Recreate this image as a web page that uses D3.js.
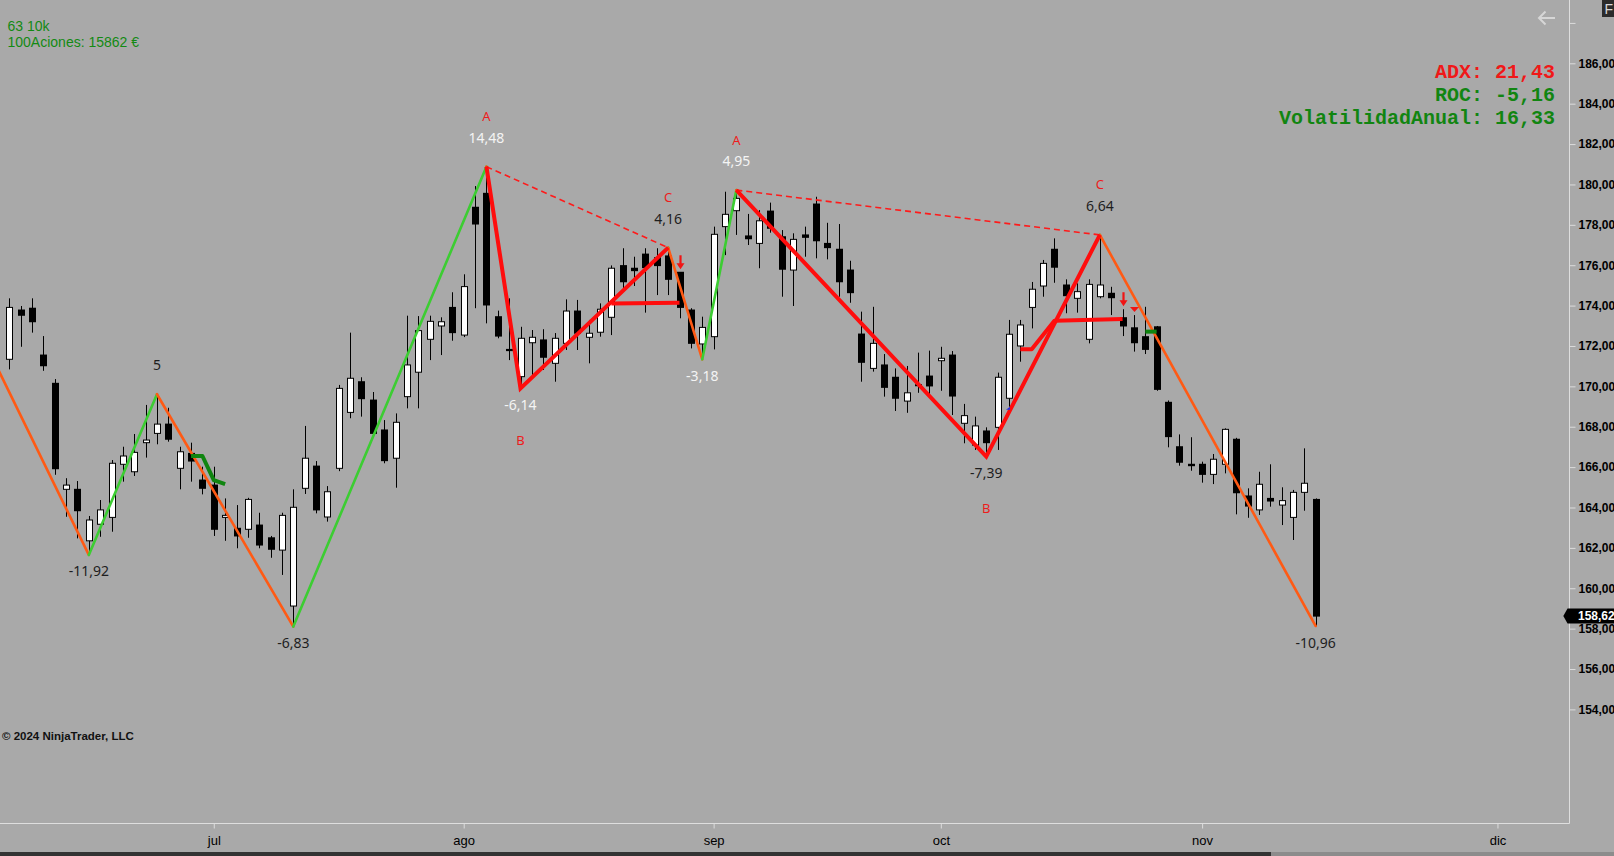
<!DOCTYPE html>
<html><head><meta charset="utf-8">
<script src="https://cdn.jsdelivr.net/npm/d3@7"></script>
<style>html,body{margin:0;padding:0;background:#a9a9a9;overflow:hidden}</style>
</head><body><svg id="c" width="1614" height="856"></svg>
<script>
// ---------- DATA ----------
const openP = [171.34,173.78,173.87,171.55,170.15,164.90,164.90,162.35,163.17,163.51,166.14,165.77,167.21,167.67,168.13,165.94,166.68,165.36,165.11,163.51,
162.97,162.92,163.13,162.50,161.89,159.12,164.95,166.05,163.53,165.94,168.71,170.23,169.32,167.84,166.44,169.49,170.70,172.33,172.99,173.91,
172.54,178.87,179.56,173.45,171.83,170.48,172.16,172.30,171.14,172.13,173.73,172.43,172.68,173.42,175.98,175.85,176.55,176.37,176.46,175.65,
173.78,172.10,172.46,177.91,178.70,177.45,177.08,178.68,177.41,175.76,177.50,179.03,177.08,176.79,175.76,172.59,170.89,171.06,170.45,169.27,
170.08,170.51,171.27,171.55,168.17,167.09,167.79,167.97,169.41,172.00,173.91,174.97,176.79,175.02,174.36,172.33,174.44,174.61,173.40,172.90,
172.46,172.95,169.21,167.01,166.14,166.14,165.64,166.14,167.38,164.57,163.88,164.45,164.12,163.51,164.75,164.40];
const highP = [174.36,173.98,174.36,172.49,170.36,165.45,165.31,163.58,164.37,166.35,167.01,167.64,169.08,169.61,168.94,167.01,167.21,166.02,166.02,164.45,
164.12,164.48,163.74,162.59,163.74,164.90,168.04,166.30,165.06,170.07,172.66,170.45,169.72,168.33,168.66,173.50,173.48,173.50,173.42,174.66,
175.55,179.92,180.88,173.75,174.36,172.95,172.79,172.83,172.64,174.31,174.28,173.29,174.11,175.99,176.84,176.42,176.84,176.84,176.87,175.65,
173.87,173.45,177.91,179.64,179.72,178.54,178.73,179.10,177.74,177.58,177.91,179.39,178.10,178.04,176.22,173.70,173.94,171.60,170.89,171.01,
171.67,171.77,171.96,171.75,169.13,168.50,167.97,170.68,173.29,173.29,175.17,176.26,177.33,175.30,175.10,175.30,177.50,174.93,173.82,173.53,
173.94,172.99,169.30,167.62,167.48,166.27,166.65,167.92,167.45,164.95,165.77,166.14,165.00,164.87,166.93,164.45];
const lowP = [170.84,171.96,172.66,170.77,165.62,163.54,162.47,161.65,162.55,162.80,165.28,165.56,166.47,167.13,167.26,164.90,165.28,164.65,162.59,162.35,
161.98,162.50,161.98,161.51,160.66,158.10,164.67,163.71,163.30,165.80,168.42,168.50,167.54,166.19,164.98,168.91,168.91,171.30,171.55,172.26,
172.44,173.87,173.12,172.38,171.30,169.90,170.51,170.81,170.23,171.80,171.80,171.14,172.46,172.54,174.77,174.97,173.65,174.52,174.52,173.37,
171.88,171.34,171.83,176.50,177.50,177.00,175.85,177.61,174.44,173.98,176.42,176.34,176.29,174.44,174.14,170.23,170.73,169.49,168.78,168.69,
169.68,169.57,169.78,168.58,167.18,166.85,166.52,166.85,168.99,171.22,172.87,174.44,175.13,173.62,173.65,172.13,174.36,173.53,172.49,171.72,
171.60,169.78,166.98,166.07,165.82,165.23,165.16,165.69,163.66,163.49,163.63,164.04,163.13,162.39,163.84,158.13];
const closeP = [173.91,173.52,173.20,171.02,165.92,165.11,163.84,163.38,163.88,166.19,166.55,166.73,167.34,168.13,167.38,166.76,166.30,164.95,162.92,163.61,
162.59,164.40,162.14,161.93,163.61,164.01,166.44,163.88,164.78,169.90,170.40,169.39,167.67,166.32,168.22,171.06,172.76,173.22,173.20,172.66,
174.94,178.04,174.03,172.49,171.77,172.38,172.43,171.44,172.38,173.73,172.63,172.63,173.82,175.85,175.18,175.73,175.88,175.98,175.30,173.91,
172.13,172.92,177.53,178.52,179.31,177.31,178.20,177.83,175.80,177.28,177.38,177.21,176.87,175.18,174.64,171.19,172.13,169.95,169.41,169.68,
170.03,170.02,171.39,169.52,168.55,168.04,167.21,170.45,172.58,173.04,174.81,176.09,175.90,174.49,174.69,175.05,175.02,174.39,172.99,172.16,
171.83,169.85,167.51,166.24,166.07,165.64,166.39,167.87,164.73,164.07,165.15,164.32,164.34,164.75,165.20,158.62];

// ZigZag pivots (bar index, price, label)
const pivotIdx = [-3, 7, 13, 25, 42, 45, 58, 61, 64, 86, 96, 115];
const pivotVal = [173.16, 161.65, 169.61, 158.10, 180.88, 169.90, 176.87, 171.34, 179.72, 166.52, 177.50, 158.13];
const pivotLabel = ["", "-11,92", "5", "-6,83", "14,48", "-6,14", "4,16", "-3,18", "4,95", "-7,39", "6,64", "-10,96"];
// ABC patterns: positions in pivot arrays
const abcA = [4, 8], abcB = [5, 9], abcC = [6, 10];
const abcLetters = ["A", "B", "C"];

// trailing stop style lines
const stopRedIdx1 = [53, 57, 59], stopRedVal1 = [174.10, 174.13, 174.14];
const stopRedIdx2 = [89, 90, 92, 98], stopRedVal2 = [171.84, 171.84, 173.25, 173.33];
const stopGrnIdx1 = [16, 17, 18, 19], stopGrnVal1 = [166.55, 166.55, 165.36, 165.16];
const stopGrnIdx2 = [100, 101], stopGrnVal2 = [172.71, 172.71];
const arrowIdx = [59, 98];
const triIdx = [99];
const blueIdx = [88];

const monthLabels = ["jul", "ago", "sep", "oct", "nov", "dic"];
const monthIdx = [18, 40, 62, 82, 105, 131];
const priceTicks = [154,156,158,160,162,164,166,168,170,172,174,176,178,180,182,184,186,188];
const lastPrice = 158.62;
const infoLeft = ["63 10k", "100Aciones: 15862 €"];
const infoRight = [["ADX: 21,43", "#f01818"], ["ROC: -5,16", "#118511"], ["VolatilidadAnual: 16,33", "#118511"]];

// ---------- DRAW ----------
const W = 1614, H = 856, plotR = 1569.5, plotB = 823.5;
const svg = d3.select("#c");
svg.append("rect").attr("width", W).attr("height", H).attr("fill", "#a9a9a9");
svg.append("defs").append("clipPath").attr("id", "clip")
  .append("rect").attr("x", 0).attr("y", 0).attr("width", plotR).attr("height", plotB);

const x = d3.scaleLinear().domain([0, 115]).range([9.3, 1315.7]);
const y = d3.scaleLinear().domain([154, 186]).range([709.4, 63.3]);
const loc = d3.formatLocale({decimal: ",", thousands: ".", grouping: [3], currency: ["", "€"]});
const f2 = loc.format(".2f");

// axes
const yAxis = d3.axisRight(y).tickValues(priceTicks).tickSize(6).tickPadding(3)
  .tickFormat(d => d >= 188 ? "" : f2(d));
const ga = svg.append("g").attr("transform", `translate(${plotR},0)`).call(yAxis);
ga.select(".domain").remove();
ga.selectAll(".tick line").attr("stroke", "#dcdcdc");
ga.selectAll(".tick text").attr("fill", "#000").attr("font-family", "Liberation Sans, Arial, sans-serif")
  .attr("font-size", 12).attr("font-weight", "bold");

const xAxis = d3.axisBottom(x).tickValues(monthIdx).tickSize(5).tickPadding(7)
  .tickFormat((d, i) => monthLabels[i]);
const gx = svg.append("g").attr("transform", `translate(0,${plotB})`).call(xAxis);
gx.select(".domain").remove();
gx.selectAll(".tick line").attr("stroke", "#dcdcdc");
gx.selectAll(".tick text").attr("fill", "#000")
  .attr("font-family", "Liberation Sans Narrow, Liberation Sans, Arial, sans-serif").attr("font-size", 13);

// border
svg.append("path").attr("d", `M${plotR},0V${plotB}H0`).attr("fill", "none").attr("stroke", "#dedede").attr("stroke-width", 1);

const plot = svg.append("g").attr("clip-path", "url(#clip)");

// candles
const bars = d3.range(openP.length).map(i => ({i, o: openP[i], h: highP[i], l: lowP[i], c: closeP[i]}));
const cg = plot.append("g");
cg.selectAll("line.w").data(bars).join("line").attr("class", "w")
  .attr("x1", d => Math.round(x(d.i)) + 0.5).attr("x2", d => Math.round(x(d.i)) + 0.5)
  .attr("y1", d => y(d.h)).attr("y2", d => y(d.l)).attr("stroke", "#000").attr("stroke-width", 1);
cg.selectAll("rect.b").data(bars).join("rect").attr("class", "b")
  .attr("x", d => d.c >= d.o ? Math.round(x(d.i)) - 2.5 : Math.round(x(d.i)) - 3)
  .attr("y", d => { const t = y(Math.max(d.o, d.c)); return d.c >= d.o ? t : t - 0.5; })
  .attr("width", d => d.c >= d.o ? 6 : 7)
  .attr("height", d => { const hh = Math.abs(y(d.o) - y(d.c)); return d.c >= d.o ? Math.max(hh, 1.5) : Math.max(hh + 1, 2); })
  .attr("fill", d => d.c >= d.o ? "#fff" : "#000")
  .attr("stroke", d => d.c >= d.o ? "#000" : "none").attr("stroke-width", 1);

// zigzag
const piv = pivotIdx.map((p, k) => ({i: p, v: pivotVal[k], lab: pivotLabel[k], k}));
const segs = d3.pairs(piv);
plot.selectAll("line.zz").data(segs).join("line").attr("class", "zz")
  .attr("x1", d => x(d[0].i)).attr("y1", d => y(d[0].v)).attr("x2", d => x(d[1].i)).attr("y2", d => y(d[1].v))
  .attr("stroke", d => d[1].v > d[0].v ? "#3ccd32" : "#ff5a14").attr("stroke-width", 2.6).attr("stroke-linecap", "round");

const line = d3.line().x(d => x(d[0])).y(d => y(d[1]));
// ABC patterns
abcA.forEach((a, n) => {
  const A = piv[a], B = piv[abcB[n]], C = piv[abcC[n]];
  plot.append("path").attr("d", line([[A.i, A.v], [C.i, C.v]])).attr("fill", "none")
    .attr("stroke", "#ff1a1a").attr("stroke-width", 1.6).attr("stroke-dasharray", "6,4");
  plot.append("path").attr("d", line([[A.i, A.v], [B.i, B.v], [C.i, C.v]])).attr("fill", "none")
    .attr("stroke", "#ff0d0d").attr("stroke-width", 4).attr("stroke-linejoin", "miter");
});

// stop lines
function poly(idx, val, col) {
  plot.append("path").attr("d", line(idx.map((d, k) => [d, val[k]]))).attr("fill", "none")
    .attr("stroke", col).attr("stroke-width", 4).attr("stroke-linejoin", "round");
}
poly(stopRedIdx1, stopRedVal1, "#ff0d0d");
poly(stopRedIdx2, stopRedVal2, "#ff0d0d");
poly(stopGrnIdx1, stopGrnVal1, "#108510");
poly(stopGrnIdx2, stopGrnVal2, "#108510");

// arrows
arrowIdx.forEach(i => {
  const cx = Math.round(x(i)) + 0.5, tip = y(highP[i]) - 3;
  plot.append("line").attr("x1", cx).attr("x2", cx).attr("y1", tip - 14).attr("y2", tip - 5)
    .attr("stroke", "#f01414").attr("stroke-width", 2.2);
  plot.append("path").attr("d", `M${cx - 4},${tip - 6}L${cx + 4},${tip - 6}L${cx},${tip}Z`).attr("fill", "#f01414");
});
triIdx.forEach(i => {
  const cx = Math.round(x(i)) + 0.5, tip = y(highP[i]) - 3;
  plot.append("path").attr("d", `M${cx - 4.5},${tip - 5}L${cx + 4.5},${tip - 5}L${cx},${tip}Z`).attr("fill", "#f01414");
});
blueIdx.forEach(i => {
  const cx = Math.round(x(i)), b = y(lowP[i]) + 3;
  plot.append("path").attr("d", `M${cx - 3},${b}L${cx + 1},${b - 3}L${cx + 1},${b}Z`).attr("fill", "#2030e0");
});

// pivot labels
const lightSet = new Set([4, 5, 7, 8]);
const isHigh = k => (k > 0 ? piv[k].v > piv[k - 1].v : piv[k].v > piv[k + 1].v);
plot.selectAll("text.pl").data(piv.filter(p => p.lab)).join("text").attr("class", "pl")
  .attr("x", d => x(d.i)).attr("y", d => isHigh(d.k) ? y(d.v) - 24 : y(d.v) + 21.5)
  .attr("text-anchor", "middle").attr("font-family", "Noto Sans, Open Sans, sans-serif").attr("font-size", 14)
  .attr("fill", d => lightSet.has(d.k) ? "#f4f4f4" : "#1e1e1e").text(d => d.lab);
abcA.forEach((a, n) => {
  [[a, "A", -45.5], [abcB[n], "B", 56.5], [abcC[n], "C", -45.5]].forEach(([k, t, off]) => {
    plot.append("text").attr("x", x(piv[k].i)).attr("y", y(piv[k].v) + off).attr("text-anchor", "middle")
      .attr("font-family", "Noto Sans, Open Sans, sans-serif").attr("font-size", 13).attr("fill", "#ee1c1c").text(t);
  });
});

// info texts
svg.selectAll("text.il").data(infoLeft).join("text").attr("class", "il")
  .attr("x", 7.5).attr("y", (d, i) => 30.7 + i * 16).attr("font-family", "Liberation Sans, Arial, sans-serif")
  .attr("font-size", 14).attr("fill", "#138a13").text(d => d);
svg.selectAll("text.ir").data(infoRight).join("text").attr("class", "ir")
  .attr("x", 1555).attr("y", (d, i) => 77.5 + i * 23.3).attr("text-anchor", "end")
  .attr("font-family", "Liberation Mono, Courier New, monospace").attr("font-weight", "bold").attr("font-size", 20)
  .attr("fill", d => d[1]).text(d => d[0]);

svg.append("text").attr("x", 2).attr("y", 740).attr("font-family", "Liberation Sans, Arial, sans-serif")
  .attr("font-size", 11.5).attr("font-weight", "bold").attr("fill", "#111").text("© 2024 NinjaTrader, LLC");

// last price marker
const ly = y(lastPrice);
svg.append("path").attr("d", `M1563.3,${ly}L1567.5,${ly - 7.5}H1614V${ly + 7.5}H1567.5Z`).attr("fill", "#000");
svg.append("text").attr("x", 1578).attr("y", ly + 4.3).attr("font-family", "Liberation Sans, Arial, sans-serif")
  .attr("font-size", 12).attr("font-weight", "bold").attr("fill", "#fff").text(f2(lastPrice));

// back arrow & corner box
svg.append("path").attr("d", "M1555,18H1539M1545.5,11.5L1539,18L1545.5,24.5").attr("fill", "none")
  .attr("stroke", "#d6d6d6").attr("stroke-width", 2);
svg.append("rect").attr("x", 1602).attr("y", 0).attr("width", 12).attr("height", 17).attr("fill", "#2b2b2b");
svg.append("text").attr("x", 1604.5).attr("y", 14).attr("font-family", "Liberation Sans, Arial, sans-serif")
  .attr("font-size", 14).attr("fill", "#d8d8d8").text("F");

// bottom strip
svg.append("rect").attr("x", 0).attr("y", 852).attr("width", 1271).attr("height", 4).attr("fill", "#333");
svg.append("rect").attr("x", 1271).attr("y", 852).attr("width", 343).attr("height", 4).attr("fill", "#8c8c8c");
</script>
</body></html>
